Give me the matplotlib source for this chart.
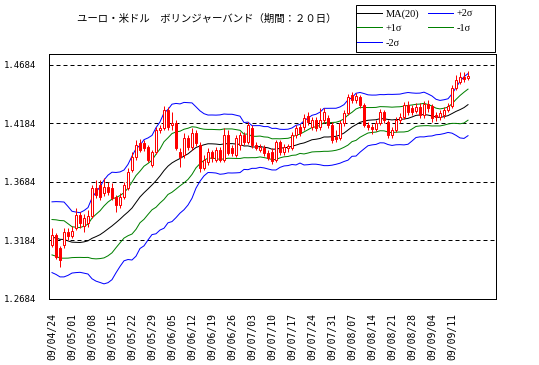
import matplotlib
matplotlib.use("Agg")
import matplotlib.pyplot as plt
from matplotlib.lines import Line2D
from matplotlib.patches import Rectangle
import numpy as np
import pandas as pd

# ---------------- data ----------------
title = "ユーロ・米ドル　ボリンジャーバンド（期間：２０日）"

# closes of the 19 trading days before the first candle (needed for the 20-day bands)
pre_close = [1.3180, 1.3240, 1.3280, 1.3470, 1.3480, 1.3430, 1.3360, 1.3270, 1.3210, 1.3210,
             1.3280, 1.3230, 1.3170, 1.3080, 1.3040, 1.2920, 1.2970, 1.3010, 1.3180]

open_ = [1.3145, 1.3231, 1.3120, 1.3145, 1.3257, 1.3222, 1.3291, 1.3402, 1.3308, 1.3333,
         1.3393, 1.3633, 1.3658, 1.3590, 1.3641, 1.3633, 1.3556, 1.3487, 1.3556, 1.3633,
         1.3787, 1.3898, 1.4017, 1.4017, 1.3983, 1.3829, 1.3941, 1.4129, 1.4146, 1.4300,
         1.4171, 1.4188, 1.3941, 1.3915, 1.4060, 1.3983, 1.4103, 1.4000, 1.3804, 1.3855,
         1.3941, 1.3872, 1.3958, 1.3872, 1.4086, 1.3975, 1.3915, 1.4000, 1.4086, 1.4026,
         1.4146, 1.4000, 1.3958, 1.3975, 1.3932, 1.3941, 1.3872, 1.4026, 1.3941, 1.3975,
         1.3975, 1.4086, 1.4154, 1.4154, 1.4248, 1.4154, 1.4214, 1.4154, 1.4214, 1.4231,
         1.4171, 1.4069, 1.4060, 1.4188, 1.4274, 1.4428, 1.4385, 1.4411, 1.4342, 1.4171,
         1.4154, 1.4137, 1.4188, 1.4283, 1.4197, 1.4086, 1.4129, 1.4214, 1.4240, 1.4342,
         1.4317, 1.4291, 1.4325, 1.4257, 1.4351, 1.4334, 1.4257, 1.4240, 1.4257, 1.4300,
         1.4334, 1.4488, 1.4539, 1.4582, 1.4573]
high = [1.3291, 1.3248, 1.3137, 1.3291, 1.3291, 1.3308, 1.3462, 1.3428, 1.3410, 1.3445,
        1.3658, 1.3701, 1.3701, 1.3718, 1.3684, 1.3675, 1.3573, 1.3590, 1.3684, 1.3804,
        1.3941, 1.4043, 1.4052, 1.4043, 1.4000, 1.3958, 1.4154, 1.4171, 1.4334, 1.4325,
        1.4283, 1.4214, 1.3975, 1.4103, 1.4086, 1.4146, 1.4129, 1.4026, 1.3915, 1.3975,
        1.3958, 1.3983, 1.3983, 1.4146, 1.4129, 1.4000, 1.4086, 1.4112, 1.4112, 1.4197,
        1.4171, 1.4026, 1.4009, 1.4000, 1.3958, 1.3975, 1.4043, 1.4043, 1.4009, 1.4009,
        1.4112, 1.4171, 1.4180, 1.4265, 1.4283, 1.4240, 1.4240, 1.4317, 1.4317, 1.4257,
        1.4197, 1.4129, 1.4214, 1.4300, 1.4436, 1.4454, 1.4445, 1.4428, 1.4359, 1.4197,
        1.4180, 1.4214, 1.4308, 1.4300, 1.4214, 1.4154, 1.4240, 1.4274, 1.4368, 1.4377,
        1.4342, 1.4359, 1.4359, 1.4377, 1.4385, 1.4351, 1.4283, 1.4300, 1.4325, 1.4359,
        1.4513, 1.4599, 1.4625, 1.4625, 1.4633]
low = [1.3128, 1.3026, 1.2957, 1.3120, 1.3188, 1.3205, 1.3274, 1.3291, 1.3257, 1.3299,
       1.3376, 1.3547, 1.3530, 1.3564, 1.3573, 1.3530, 1.3428, 1.3462, 1.3539, 1.3616,
       1.3770, 1.3872, 1.3941, 1.3949, 1.3855, 1.3812, 1.3923, 1.4103, 1.4129, 1.4129,
       1.4129, 1.3958, 1.3812, 1.3889, 1.3958, 1.3958, 1.3992, 1.3770, 1.3787, 1.3829,
       1.3855, 1.3855, 1.3855, 1.3855, 1.3915, 1.3906, 1.3898, 1.3958, 1.4000, 1.4009,
       1.3975, 1.3958, 1.3941, 1.3906, 1.3872, 1.3838, 1.3855, 1.3915, 1.3915, 1.3941,
       1.3958, 1.4060, 1.4077, 1.4129, 1.4171, 1.4129, 1.4120, 1.4129, 1.4188, 1.4146,
       1.4017, 1.4026, 1.4043, 1.4163, 1.4257, 1.4359, 1.4359, 1.4317, 1.4154, 1.4129,
       1.4094, 1.4120, 1.4171, 1.4188, 1.4060, 1.4060, 1.4112, 1.4188, 1.4223, 1.4257,
       1.4257, 1.4274, 1.4231, 1.4231, 1.4283, 1.4197, 1.4206, 1.4214, 1.4231, 1.4283,
       1.4317, 1.4471, 1.4522, 1.4539, 1.4556]
close = [1.3231, 1.3043, 1.3017, 1.3257, 1.3222, 1.3265, 1.3402, 1.3333, 1.3376, 1.3393,
         1.3633, 1.3573, 1.3556, 1.3641, 1.3599, 1.3547, 1.3487, 1.3556, 1.3658, 1.3770,
         1.3898, 1.4000, 1.3958, 1.3975, 1.3872, 1.3941, 1.4129, 1.4146, 1.4300, 1.4154,
         1.4188, 1.3975, 1.3898, 1.4060, 1.3983, 1.4103, 1.4017, 1.3804, 1.3872, 1.3941,
         1.3889, 1.3958, 1.3872, 1.4086, 1.3932, 1.3932, 1.4060, 1.4086, 1.4026, 1.4171,
         1.4000, 1.3975, 1.3983, 1.3932, 1.3889, 1.3864, 1.4026, 1.3941, 1.3983, 1.3992,
         1.4086, 1.4146, 1.4103, 1.4231, 1.4197, 1.4214, 1.4146, 1.4214, 1.4283, 1.4171,
         1.4043, 1.4052, 1.4188, 1.4274, 1.4411, 1.4385, 1.4419, 1.4342, 1.4171, 1.4154,
         1.4137, 1.4188, 1.4283, 1.4214, 1.4086, 1.4129, 1.4214, 1.4240, 1.4342, 1.4283,
         1.4283, 1.4325, 1.4257, 1.4351, 1.4317, 1.4231, 1.4240, 1.4274, 1.4300, 1.4334,
         1.4488, 1.4556, 1.4582, 1.4565, 1.4590]

x_labels = ["09/04/24", "09/05/01", "09/05/08", "09/05/15", "09/05/22", "09/05/29",
            "09/06/05", "09/06/12", "09/06/19", "09/06/26", "09/07/03", "09/07/10",
            "09/07/17", "09/07/24", "09/07/31", "09/08/07", "09/08/14", "09/08/21",
            "09/08/28", "09/09/04", "09/09/11"]
label_step = 5  # one label per week (5 trading days)
y_ticks = [1.2684, 1.3184, 1.3684, 1.4184, 1.4684]
y_labels = ["1.2684", "1.3184", "1.3684", "1.4184", "1.4684"]
period = 20

# ---------------- bands ----------------
s = pd.Series(pre_close + close)
ma = s.rolling(period).mean().to_numpy()[len(pre_close):]
sd = s.rolling(period).std(ddof=0).to_numpy()[len(pre_close):]
n = len(close)
xs = np.arange(n)

RED = "#ff0000"
BLUE = "#0000ff"
GREEN = "#008000"
PX = 0.72

fig = plt.figure(figsize=(5.39, 3.65), dpi=100)
ax = fig.add_axes([49 / 539, 1 - 299 / 365, 447 / 539, 245 / 365])

# grid
for yv in y_ticks[1:]:
    ax.axhline(yv, color="black", lw=PX, linestyle=(0, (4, 3)), zorder=1)

# bands
ax.plot(xs, ma, color="black", lw=PX, zorder=3)
ax.plot(xs, ma + 2 * sd, color=BLUE, lw=PX, zorder=3)
ax.plot(xs, ma + sd, color=GREEN, lw=PX, zorder=3)
ax.plot(xs, ma - sd, color=GREEN, lw=PX, zorder=3)
ax.plot(xs, ma - 2 * sd, color=BLUE, lw=PX, zorder=3)

# candles
o = np.array(open_); c = np.array(close); h = np.array(high); l = np.array(low)
ax.vlines(xs, l, h, color=RED, lw=PX, zorder=4)
up = c >= o
face = np.where(up, "white", RED)
body = np.where(np.abs(c - o) < 0.0002, 0.0002, c - o)
ax.bar(xs, body, bottom=o, width=0.7, color=face, edgecolor=RED, lw=PX, zorder=5)

ax.set_xlim(-0.75, 111)
ax.set_ylim(1.2684, 1.4778)
ax.set_yticks(y_ticks)
ax.set_yticklabels(y_labels, fontsize=6.5, family="DejaVu Sans Mono")
tick_pos = [i * label_step for i in range(len(x_labels))]
ax.set_xticks(tick_pos)
ax.set_xticklabels(x_labels, rotation=90, fontsize=7, family="DejaVu Sans Mono")
ax.tick_params(axis="x", length=0, pad=10)
ax.tick_params(axis="y", length=0, pad=9)
for sp in ax.spines.values():
    sp.set_linewidth(PX)
    sp.set_color("black")

# title
fig.text(77 / 539, 1 - 19 / 365, title, ha="left", va="center", fontsize=7.5,
         family=["Noto Sans CJK JP", "DejaVu Sans"])

# legend box
fig.patches.append(Rectangle((356 / 539, 1 - 52 / 365), 139 / 539, 47 / 365,
                             transform=fig.transFigure, facecolor="white",
                             edgecolor="black", lw=PX))
handles = [Line2D([], [], color="black", lw=PX), Line2D([], [], color=GREEN, lw=PX),
           Line2D([], [], color=BLUE, lw=PX), Line2D([], [], color=BLUE, lw=PX),
           Line2D([], [], color=GREEN, lw=PX)]
labels = ["MA(20)", "+1σ", "-2σ", "+2σ", "-1σ"]
fig.legend(handles, labels, loc="upper left", bbox_to_anchor=(357 / 539, 1 - 9 / 365),
           ncol=2, frameon=False, borderpad=0, borderaxespad=0, handlelength=2.4,
           handletextpad=0.35, columnspacing=0.85, labelspacing=0.5,
           prop={"family": ["Liberation Serif", "DejaVu Serif"], "size": 7.5})

fig.savefig("out.png", dpi=100)
